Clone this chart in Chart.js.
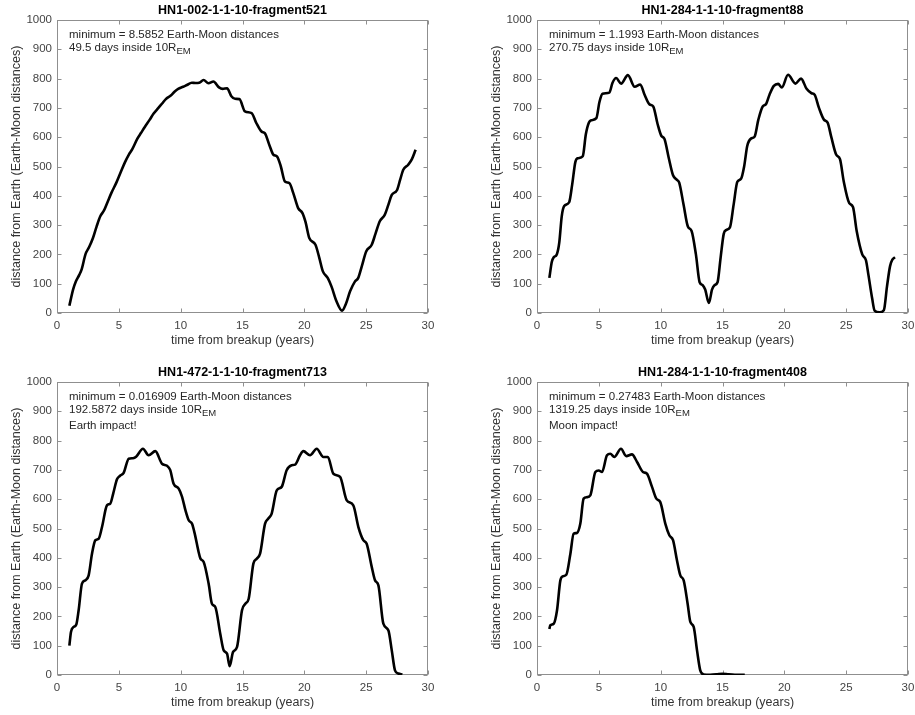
<!DOCTYPE html>
<html><head><meta charset="utf-8">
<script src="https://cdn.jsdelivr.net/npm/chart.js@4.4.1/dist/chart.umd.min.js"></script>
<style>
html,body{margin:0;padding:0;background:#fff;overflow:hidden;width:915px;height:715px;position:relative}
canvas{position:absolute}
</style></head><body>
<canvas id="c1" width="457" height="357" style="left:0;top:0;width:457px;height:357px"></canvas>
<canvas id="c2" width="458" height="357" style="left:457px;top:0;width:458px;height:357px"></canvas>
<canvas id="c3" width="457" height="358" style="left:0;top:357px;width:457px;height:358px"></canvas>
<canvas id="c4" width="458" height="358" style="left:457px;top:357px;width:458px;height:358px"></canvas>
<script>
// ---------- data ----------
const xTicks = [0, 5, 10, 15, 20, 25, 30];
const yTicks = [0, 100, 200, 300, 400, 500, 600, 700, 800, 900, 1000];
const xTitle = 'time from breakup (years)';
const yTitle = 'distance from Earth (Earth-Moon distances)';
const titles = ['HN1-002-1-1-10-fragment521', 'HN1-284-1-1-10-fragment88', 'HN1-472-1-1-10-fragment713', 'HN1-284-1-1-10-fragment408'];
const minLines = ['minimum = 8.5852 Earth-Moon distances', 'minimum = 1.1993 Earth-Moon distances', 'minimum = 0.016909 Earth-Moon distances', 'minimum = 0.27483 Earth-Moon distances'];
const dayLines = ['49.5 days inside 10R', '270.75 days inside 10R', '192.5872 days inside 10R', '1319.25 days inside 10R'];
const subText = 'EM';
const impactLines = ['', '', 'Earth impact!', 'Moon impact!'];

const yearsA = [1.0,1.3,1.5,1.8,2.0,2.3,2.6,2.9,3.2,3.5,3.8,4.1,4.4,4.8,5.1,5.5,5.8,6.1,6.5,6.8,7.1,7.5,7.8,8.2,8.5,8.8,9.2,9.5,9.8,10.2,10.5,10.9,11.2,11.5,11.85,12.25,12.65,13.1,13.4,13.75,14.1,14.4,14.75,15.2,15.74,16.1,16.55,16.8,17.2,17.5,17.8,18.1,18.43,18.8,19.1,19.5,19.85,20.1,20.4,20.9,21.2,21.5,21.9,22.2,22.6,23.05,23.35,23.7,24.1,24.35,24.65,25.0,25.45,25.75,26.1,26.5,26.8,27.07,27.5,27.75,28.0,28.4,28.7,29.0];
const distA = [25,80,105,130,150,200,225,255,295,330,350,380,410,445,475,515,540,560,595,615,635,660,680,700,715,730,742,755,765,772,778,786,785,786,795,784,790,770,765,767,740,731,730,688,682,650,619,614,570,540,534,500,449,443,410,358,341,310,256,233,190,142,119,90,40,8,30,74,108,119,160,210,233,270,313,335,370,403,420,455,489,506,525,557];

const yearsB = [1.0,1.2,1.35,1.6,1.8,2.0,2.2,2.6,2.85,3.1,3.3,3.7,3.95,4.2,4.4,4.8,5.05,5.3,5.85,6.1,6.4,6.8,7.35,7.9,8.35,8.7,9.1,9.4,9.75,10.05,10.3,10.65,11.0,11.3,11.5,11.85,12.2,12.5,12.85,13.15,13.4,13.6,13.9,14.15,14.35,14.6,14.85,15.1,15.3,15.6,15.9,16.2,16.5,16.75,17.0,17.3,17.6,17.9,18.25,18.5,18.8,19.15,19.5,19.8,20.3,20.9,21.35,21.8,22.2,22.45,22.8,23.2,23.5,23.8,24.2,24.5,24.8,25.25,25.55,25.85,26.3,26.6,26.8,27.1,27.3,27.7,28.05,28.3,28.55,28.75,28.95];
const distB = [120,175,190,200,240,330,365,378,440,515,528,535,610,650,658,665,720,748,752,785,802,783,812,772,780,745,712,705,645,605,595,530,470,455,445,370,295,280,200,105,95,80,34,80,95,105,190,270,283,292,370,448,458,500,570,595,602,660,705,712,745,775,782,770,813,783,800,765,750,745,700,660,650,600,540,525,450,375,362,280,200,180,130,50,8,2,10,90,160,183,190];

const yearsC = [1.0,1.13,1.35,1.56,1.75,2.02,2.29,2.56,2.83,3.1,3.37,3.64,4.04,4.31,4.55,4.85,5.1,5.39,5.8,6.15,6.4,6.95,7.41,7.95,8.49,8.9,9.15,9.43,9.84,10.1,10.4,10.65,10.92,11.15,11.45,11.6,11.86,12.26,12.53,12.8,13.2,13.48,13.75,13.96,14.23,14.56,14.96,15.23,15.5,15.88,16.15,16.42,16.82,17.09,17.36,17.77,18.17,18.57,18.98,19.25,19.65,19.92,20.46,21.0,21.54,21.9,22.35,22.89,23.43,23.96,24.37,24.77,25.04,25.45,25.72,25.99,26.39,26.8,27.07,27.33,27.6,27.93];
const distC = [100,147,164,172,221,312,323,340,414,460,465,505,579,585,620,668,680,690,738,740,745,772,750,764,721,714,700,653,636,610,560,528,516,480,420,397,386,312,243,232,141,84,73,30,78,96,221,243,260,380,397,414,516,534,551,630,642,699,716,718,750,764,750,772,744,744,687,676,596,579,505,460,448,369,323,306,175,152,84,16,5,2];

const yearsD = [1.0,1.08,1.35,1.62,1.89,2.1,2.37,2.7,2.96,3.23,3.5,3.77,4.04,4.31,4.72,4.99,5.26,5.66,5.93,6.25,6.79,7.22,7.68,8.09,8.57,8.89,9.3,9.65,9.97,10.38,10.7,11.0,11.32,11.59,11.86,12.18,12.4,12.67,12.94,13.2,13.48,14.0,14.5,15.0,15.5,16.0,16.8];
const distD = [157,170,175,221,323,337,342,414,482,485,516,602,607,613,693,698,693,750,755,744,772,747,753,727,693,687,642,602,590,516,477,460,391,340,323,243,181,164,84,16,2,1,2,4,2,1,1];

// ---------- drawing ----------
const FAM = "'Liberation Sans', Arial, Helvetica, sans-serif";
Chart.defaults.font.family = FAM;
Chart.defaults.color = '#444';

const decor = {
  id: 'decor',
  beforeDatasetsDraw(chart) {
    const {ctx, chartArea: a, scales: {x, y}} = chart;
    ctx.save();
    ctx.strokeStyle = '#8f8f8f';
    ctx.lineWidth = 1;
    const L = Math.round(a.left) + 0.5, R = Math.round(a.right) - 0.5;
    const T = Math.round(a.top) + 0.5, B = Math.round(a.bottom) - 0.5;
    ctx.strokeRect(L, T, R - L, B - T);
    ctx.beginPath();
    xTicks.forEach(v => {
      const px = Math.round(x.getPixelForValue(v)) + 0.5;
      ctx.moveTo(px, B); ctx.lineTo(px, B - 4);
      ctx.moveTo(px, T); ctx.lineTo(px, T + 4);
    });
    yTicks.forEach(v => {
      const py = Math.round(y.getPixelForValue(v)) + 0.5;
      ctx.moveTo(L, py); ctx.lineTo(L + 4, py);
      ctx.moveTo(R, py); ctx.lineTo(R - 4, py);
    });
    ctx.stroke();
    ctx.restore();
  },
  afterDraw(chart, args, opts) {
    const {ctx, chartArea: a} = chart;
    const i = opts.idx;
    ctx.save();
    ctx.textBaseline = 'middle';
    ctx.fillStyle = '#000';
    ctx.textAlign = 'center';
    ctx.font = 'bold 12.5px ' + FAM;
    ctx.fillText(titles[i], (a.left + a.right) / 2, a.top - 9);
    ctx.textAlign = 'left';
    ctx.fillStyle = '#262626';
    ctx.font = '11.5px ' + FAM;
    const x0 = a.left + 12;
    ctx.fillText(minLines[i], x0, a.top + 15);
    ctx.fillText(dayLines[i], x0, a.top + 27.5);
    const w = ctx.measureText(dayLines[i]).width;
    if (impactLines[i]) ctx.fillText(impactLines[i], x0, a.top + 44);
    ctx.font = '9.5px ' + FAM;
    ctx.fillText(subText, x0 + w, a.top + 31.5);
    ctx.restore();
  }
};

function makeChart(id, idx, years, dist, geo) {
  const pts = years.map((t, k) => ({x: t, y: dist[k]}));
  return new Chart(document.getElementById(id), {
    type: 'line',
    data: {datasets: [{
      data: pts,
      borderColor: '#000',
      borderWidth: 2.6,
      pointRadius: 0,
      fill: false,
      cubicInterpolationMode: 'monotone'
    }]},
    plugins: [decor],
    options: {
      responsive: false,
      animation: false,
      devicePixelRatio: 1,
      layout: {padding: {left: 0, top: geo.top, right: geo.right, bottom: 0}},
      plugins: {legend: {display: false}, tooltip: {enabled: false}, decor: {idx: idx}},
      scales: {
        x: {
          type: 'linear', min: 0, max: 30,
          grid: {display: false, drawTicks: false},
          border: {display: false},
          ticks: {stepSize: 5, padding: 6, color: '#444', font: {size: 11.5}, callback: v => String(v)},
          title: {display: true, text: xTitle, color: '#333', font: {size: 12.5}, padding: {top: 0, bottom: geo.xtb}},
          afterFit: s => { s.height = geo.xh; s.paddingLeft = 0; s.paddingRight = 0; }
        },
        y: {
          type: 'linear', min: 0, max: 1000,
          grid: {display: false, drawTicks: false},
          border: {display: false},
          ticks: {stepSize: 100, padding: 5, color: '#444', font: {size: 11.5}, callback: v => String(v)},
          title: {display: true, text: yTitle, color: '#333', font: {size: 12.5}, padding: {top: geo.ytp, bottom: 0}},
          afterFit: s => { s.width = geo.yw; s.paddingTop = 0; s.paddingBottom = 0; }
        }
      }
    }
  });
}

makeChart('c1', 0, yearsA, distA, {top: 20, right: 29, xh: 44, xtb: 8.5, yw: 57, ytp: 9.5});
makeChart('c2', 1, yearsB, distB, {top: 20, right: 7, xh: 44, xtb: 8.5, yw: 80, ytp: 32.5});
makeChart('c3', 2, yearsC, distC, {top: 25, right: 29, xh: 40, xtb: 4.5, yw: 57, ytp: 9.5});
makeChart('c4', 3, yearsD, distD, {top: 25, right: 7, xh: 40, xtb: 4.5, yw: 80, ytp: 32.5});
</script>
</body></html>
